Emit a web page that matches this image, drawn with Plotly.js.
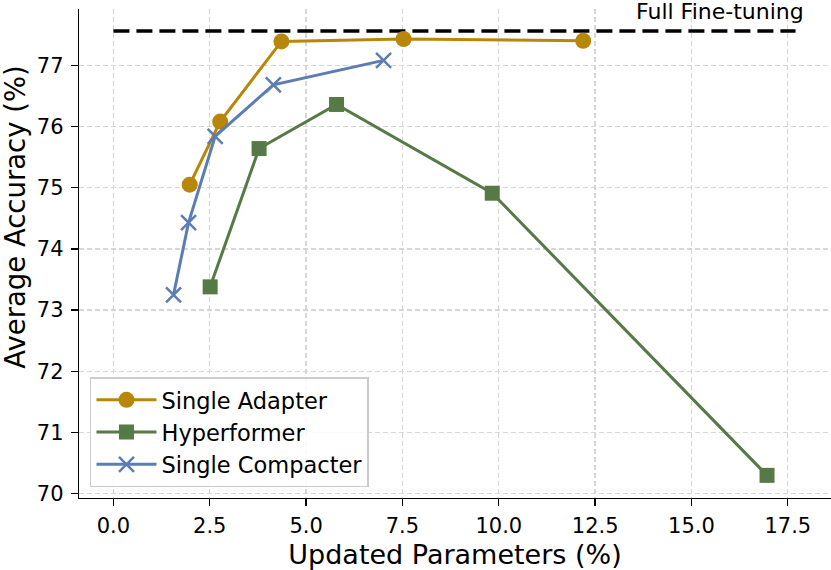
<!DOCTYPE html>
<html>
<head>
<meta charset="utf-8">
<script src="https://cdn.plot.ly/plotly-3.0.1.min.js"></script>
<style>
  html, body { margin: 0; padding: 0; background: #fff; }
  #chart { width: 831px; height: 570px; }
</style>
</head>
<body>
<div id="chart"></div>
<script>
/* -------------------- Data -------------------- */

const adapterX = [1.98, 2.77, 4.36, 7.53, 12.19];
const adapterY = [75.05, 76.08, 77.39, 77.43, 77.40];

const hyperX = [2.51, 3.78, 5.79, 9.83, 16.96];
const hyperY = [73.38, 75.64, 76.36, 74.91, 70.30];

const compacterX = [1.56, 1.95, 2.64, 4.15, 7.01];
const compacterY = [73.25, 74.43, 75.84, 76.68, 77.08];

const fullFtX = [0, 17.7];
const fullFtY = [77.56, 77.56];

const xTicks = [0, 2.5, 5, 7.5, 10, 12.5, 15, 17.5];
const xTickText = ["0.0", "2.5", "5.0", "7.5", "10.0", "12.5", "15.0", "17.5"];
const yTicks = [70, 71, 72, 73, 74, 75, 76, 77];

/* -------------------- Styles -------------------- */

const FONT = "DejaVu Sans, Liberation Sans, sans-serif";
const GOLD = "#b8860b";
const GREEN = "#557a46";
const BLUE = "#5b7db2";

const traces = [
  {
    x: fullFtX,
    y: fullFtY,
    mode: "lines",
    line: { color: "#000", width: 3.5, dash: "16px,7px" },
    showlegend: false,
    hoverinfo: "skip",
  },
  {
    x: adapterX,
    y: adapterY,
    name: "Single Adapter",
    mode: "lines+markers",
    line: { color: GOLD, width: 3 },
    marker: { symbol: "circle", size: 16, color: GOLD },
  },
  {
    x: hyperX,
    y: hyperY,
    name: "Hyperformer",
    mode: "lines+markers",
    line: { color: GREEN, width: 3 },
    marker: { symbol: "square", size: 15, color: GREEN },
  },
  {
    x: compacterX,
    y: compacterY,
    name: "Single Compacter",
    mode: "lines+markers",
    line: { color: BLUE, width: 3 },
    marker: { symbol: "x-thin", size: 15, color: BLUE, line: { color: BLUE, width: 2.5 } },
  },
];

const axisCommon = {
  showline: true,
  linecolor: "#000",
  linewidth: 1.3,
  ticks: "outside",
  ticklen: 7,
  tickwidth: 1.3,
  tickcolor: "#000",
  tickfont: { family: FONT, size: 21, color: "#000" },
  showgrid: true,
  gridcolor: "#d6d6d6",
  gridwidth: 1.3,
  griddash: "5px,3px",
  zeroline: false,
  mirror: false,
};

const layout = {
  width: 831,
  height: 570,
  margin: { l: 79, r: 0, t: 9, b: 72 },
  paper_bgcolor: "#fff",
  plot_bgcolor: "#fff",
  font: { family: FONT, color: "#000" },
  xaxis: {
    ...axisCommon,
    range: [-0.893, 18.62],
    tickvals: xTicks,
    ticktext: xTickText,
    ticklabelstandoff: 1,
    title: { text: "Updated Parameters (%)", font: { family: FONT, size: 27, color: "#000" }, standoff: 8 },
  },
  yaxis: {
    ...axisCommon,
    range: [69.93, 77.92],
    tickvals: yTicks,
    ticklabelstandoff: 3,
    title: { text: "" },
  },
  legend: {
    x: 0.0146,
    y: 0.022,
    xanchor: "left",
    yanchor: "bottom",
    itemwidth: 60,
    bgcolor: "rgba(255,255,255,0.85)",
    bordercolor: "#cccccc",
    borderwidth: 1.5,
    font: { family: FONT, size: 22.5, color: "#000" },
  },
  annotations: [
    {
      text: "Full Fine-tuning",
      xref: "x",
      yref: "y",
      x: 15.74,
      y: 77.88,
      showarrow: false,
      font: { family: FONT, size: 22, color: "#000" },
    },
    {
      text: "Average Accuracy (%)",
      xref: "paper",
      yref: "paper",
      x: -0.0852,
      y: 0.575,
      xanchor: "center",
      yanchor: "middle",
      textangle: -90,
      showarrow: false,
      font: { family: FONT, size: 27.5, color: "#000" },
    },
  ],
  showlegend: true,
};

Plotly.newPlot("chart", traces, layout, { displayModeBar: false, staticPlot: true });
</script>
</body>
</html>
